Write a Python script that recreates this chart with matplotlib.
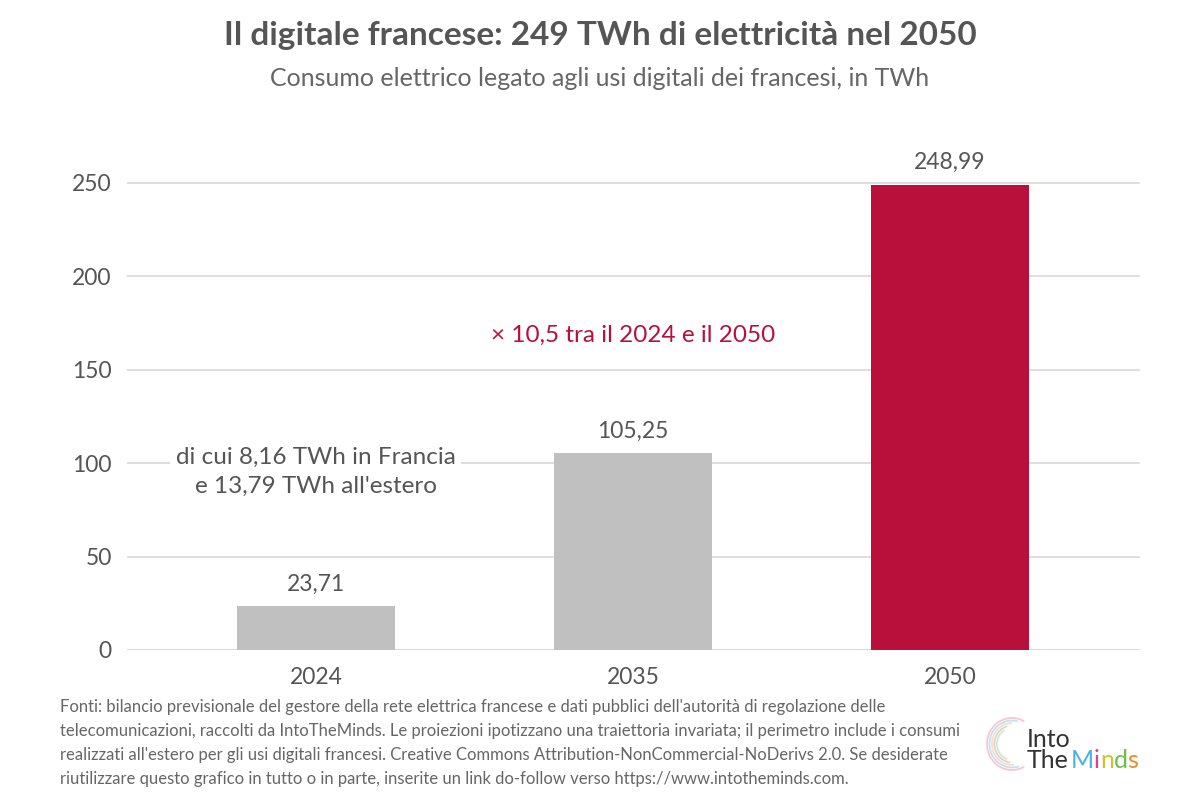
import matplotlib
matplotlib.use("Agg")
import matplotlib.pyplot as plt
from matplotlib.patches import Arc

years = ["2024", "2035", "2050"]
values = [23.71, 105.25, 248.99]
value_labels = ["23,71", "105,25", "248,99"]
yticks = [0, 50, 100, 150, 200, 250]

title = "Il digitale francese: 249 TWh di elettricità nel 2050"
subtitle = "Consumo elettrico legato agli usi digitali dei francesi, in TWh"
note_ratio = "× 10,5 tra il 2024 e il 2050"
note_2024 = "di cui 8,16 TWh in Francia\ne 13,79 TWh all'estero"
source = ("Fonti: bilancio previsionale del gestore della rete elettrica francese e dati pubblici dell'autorità di regolazione delle\n"
          "telecomunicazioni, raccolti da IntoTheMinds. Le proiezioni ipotizzano una traiettoria invariata; il perimetro include i consumi\n"
          "realizzati all'estero per gli usi digitali francesi. Creative Commons Attribution-NonCommercial-NoDerivs 2.0. Se desiderate\n"
          "riutilizzare questo grafico in tutto o in parte, inserite un link do-follow verso https://www.intotheminds.com.")

plt.rcParams['font.family'] = ['Lato', 'DejaVu Sans']

GRAY_BAR = "#c0c0c0"
RED = "#b8103a"
TXT = "#555555"

fig = plt.figure(figsize=(12, 8.05), dpi=100)
ax = fig.add_axes([127/1200, 1-650/805, (1140-127)/1200, (650-136)/805])

colors = [GRAY_BAR, GRAY_BAR, RED]
x = list(range(len(years)))
ax.bar(x, values, width=0.5, color=colors, zorder=2)

ax.set_xlim(-0.596, 2.6)
ax.set_ylim(0, 275)
ax.set_yticks(yticks)
ax.set_yticklabels([str(t) for t in yticks])
ax.set_xticks(x)
ax.set_xticklabels(years)
ax.tick_params(axis='both', length=0, labelsize=16.5, colors=TXT)
ax.tick_params(axis='y', pad=11)
ax.tick_params(axis='x', pad=12)
for s in ax.spines.values():
    s.set_visible(False)
ax.grid(axis='y', color="#d9d9d9", linewidth=1.2, zorder=0)
ax.axhline(0, color="#d0d0d0", linewidth=2, zorder=1)

for xi, v, lab in zip(x, values, value_labels):
    ax.annotate(lab, (xi, v), xytext=(0, 11), textcoords="offset points",
                ha="center", va="baseline", fontsize=16.5, color=TXT)

ax.text(1, 168.5, note_ratio, ha="center", va="center", fontsize=17.5, color=RED)
ax.text(0, 95.3, note_2024, ha="center", va="center", fontsize=17.5, color=TXT,
        linespacing=1.45, zorder=3,
        bbox=dict(facecolor="white", edgecolor="none", pad=4))

fig.text(0.5, 1-35/805, title, ha="center", va="center", fontsize=24,
         fontweight="bold", color=TXT)
fig.text(0.5, 1-78/805, subtitle, ha="center", va="center", fontsize=18,
         color="#666666")
fig.text(60/1200, 1-699/805, source, ha="left", va="top", fontsize=12.0,
         color="#666666", linespacing=1.62)

# logo: faint brain swirls
logo_colors = ["#f6c6d4", "#c4e0f4", "#f8e0b8", "#ddcdee", "#d2ebc4"]
for i, c in enumerate(logo_colors):
    arc = Arc((1012/1200, 1-744/805), (50 - i*5)/1200, (52 - i*5)/805,
              theta1=70 + i*10, theta2=290 - i*8, color=c, lw=1.3,
              transform=fig.transFigure, zorder=0)
    fig.add_artist(arc)

renderer = fig.canvas.get_renderer()
base = fig.text(1027/1200, 1-768/805, "Into\nThe", ha="left", va="baseline",
                fontsize=18, color="#333333", fontweight="normal",
                linespacing=0.92, multialignment="left")
bb = base.get_window_extent(renderer=renderer)
xpos = bb.x1/1200
parts = [("M", "#4ab3e3"), ("i", "#e0408f"), ("n", "#c8c828"),
         ("d", "#6bbf4a"), ("s", "#f0892e")]
for t, c in parts:
    tt = fig.text(xpos, 1-768/805, t, ha="left", va="baseline", fontsize=18,
                  color=c, fontweight="normal")
    b2 = tt.get_window_extent(renderer=renderer)
    xpos += b2.width/1200

fig.savefig("out.png", dpi=100, facecolor="white")
